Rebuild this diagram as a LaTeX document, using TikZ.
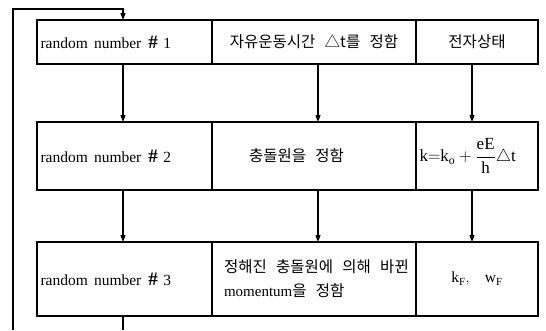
\documentclass[tikz,border=0pt]{standalone}
\usepackage{fontspec}
\setmainfont{Liberation Serif}
\newfontfamily\kr{Noto Sans CJK KR}
\newcommand\ksp{\hspace{0.6em}}
\newcommand\bighash{{\fontsize{19}{19}\selectfont\bfseries\#}}
\usetikzlibrary{arrows.meta}
\begin{document}
\begin{tikzpicture}[x=1pt,y=-1pt,line width=1.1pt,
  cell/.style={draw, anchor=north west, inner ysep=0pt, outer sep=0pt},
  en/.style={font=\fontsize{15.5}{19}\selectfont},
  ko/.style={font=\fontsize{15.5}{24}\selectfont},
  arr/.style={-{Triangle[length=7pt,width=5pt]}}]
\useasboundingbox (0,0) rectangle (546,330);
% row 1
\node[cell,en,minimum height=44pt,text width=168pt,inner xsep=3.5pt,align=left] (r1a) at (37,20) {random\hspace{0.4em}number\hspace{0.45em}\bighash\hspace{0.35em}1};
\node[cell,ko,minimum height=44pt,text width=198pt,inner xsep=3pt,align=center] (r1b) at (212,20) {\kr 자유운동시간\ksp △t를\ksp 정함};
\node[cell,ko,minimum height=44pt,text width=114pt,inner xsep=4pt,align=center] (r1c) at (416,20) {\kr 전자상태};
% row 2
\node[cell,en,minimum height=68pt,text width=168pt,inner xsep=3.5pt,align=left] (r2a) at (37,122) {random\hspace{0.4em}number\hspace{0.45em}\bighash\hspace{0.35em}2};
\node[cell,ko,minimum height=68pt,text width=130pt,inner xsep=37pt,align=left] (r2b) at (212,122) {\kr 충돌원을\ksp 정함};
\node[cell,minimum height=68pt,text width=115pt,inner xsep=3.5pt,align=left,font=\fontsize{17}{19}\selectfont] (r2c) at (416,122) {$\displaystyle\mathrm{k{=}k_o}+\frac{\mathrm{eE}}{\mathrm{h}}\triangle\mathrm{t}$};
% row 3
\node[cell,en,minimum height=74pt,text width=168pt,inner xsep=3.5pt,align=left] (r3a) at (37,242) {random\hspace{0.4em}number\hspace{0.45em}\bighash\hspace{0.35em}3};
\node[cell,ko,minimum height=74pt,text width=194pt,inner xsep=5pt,align=left] (r3b) at (212,242) {\hspace{7pt}\kr 정해진\ksp 충돌원에\ksp 의해\ksp 바뀐\\\hspace{7pt}{\rmfamily\fontsize{15}{24}\selectfont momentum}{\kr 을\ksp 정함}};
\node[cell,en,minimum height=74pt,text width=114pt,inner xsep=4pt,align=center] (r3c) at (416,242) {$\mathrm{k_F,}\quad\mathrm{w_F}$};
% connectors
\draw[arr] ([xshift=-1.5pt]r1a.south) -- ([xshift=-1.5pt]r2a.north);
\draw[arr] ([xshift=4pt]r1b.south) -- ([xshift=4pt]r2b.north);
\draw[arr] ([xshift=-5pt]r1c.south) -- ([xshift=-5pt]r2c.north);
\draw[arr] ([xshift=-1.5pt]r2a.south) -- ([xshift=-1.5pt]r3a.north);
\draw[arr] ([xshift=4pt]r2b.south) -- ([xshift=4pt]r3b.north);
\draw[arr] ([xshift=-5pt]r2c.south) -- ([xshift=-5pt]r3c.north);
% loop
\coordinate (loopbot) at (13,330);
\coordinate (looptop) at (13,9);
\coordinate (outbot) at (123,330);
\draw[arr] (loopbot) -- (looptop) -| ([xshift=-1.5pt]r1a.north);
\draw ([xshift=-1.5pt]r3a.south) -- (outbot);
\end{tikzpicture}
\end{document}
